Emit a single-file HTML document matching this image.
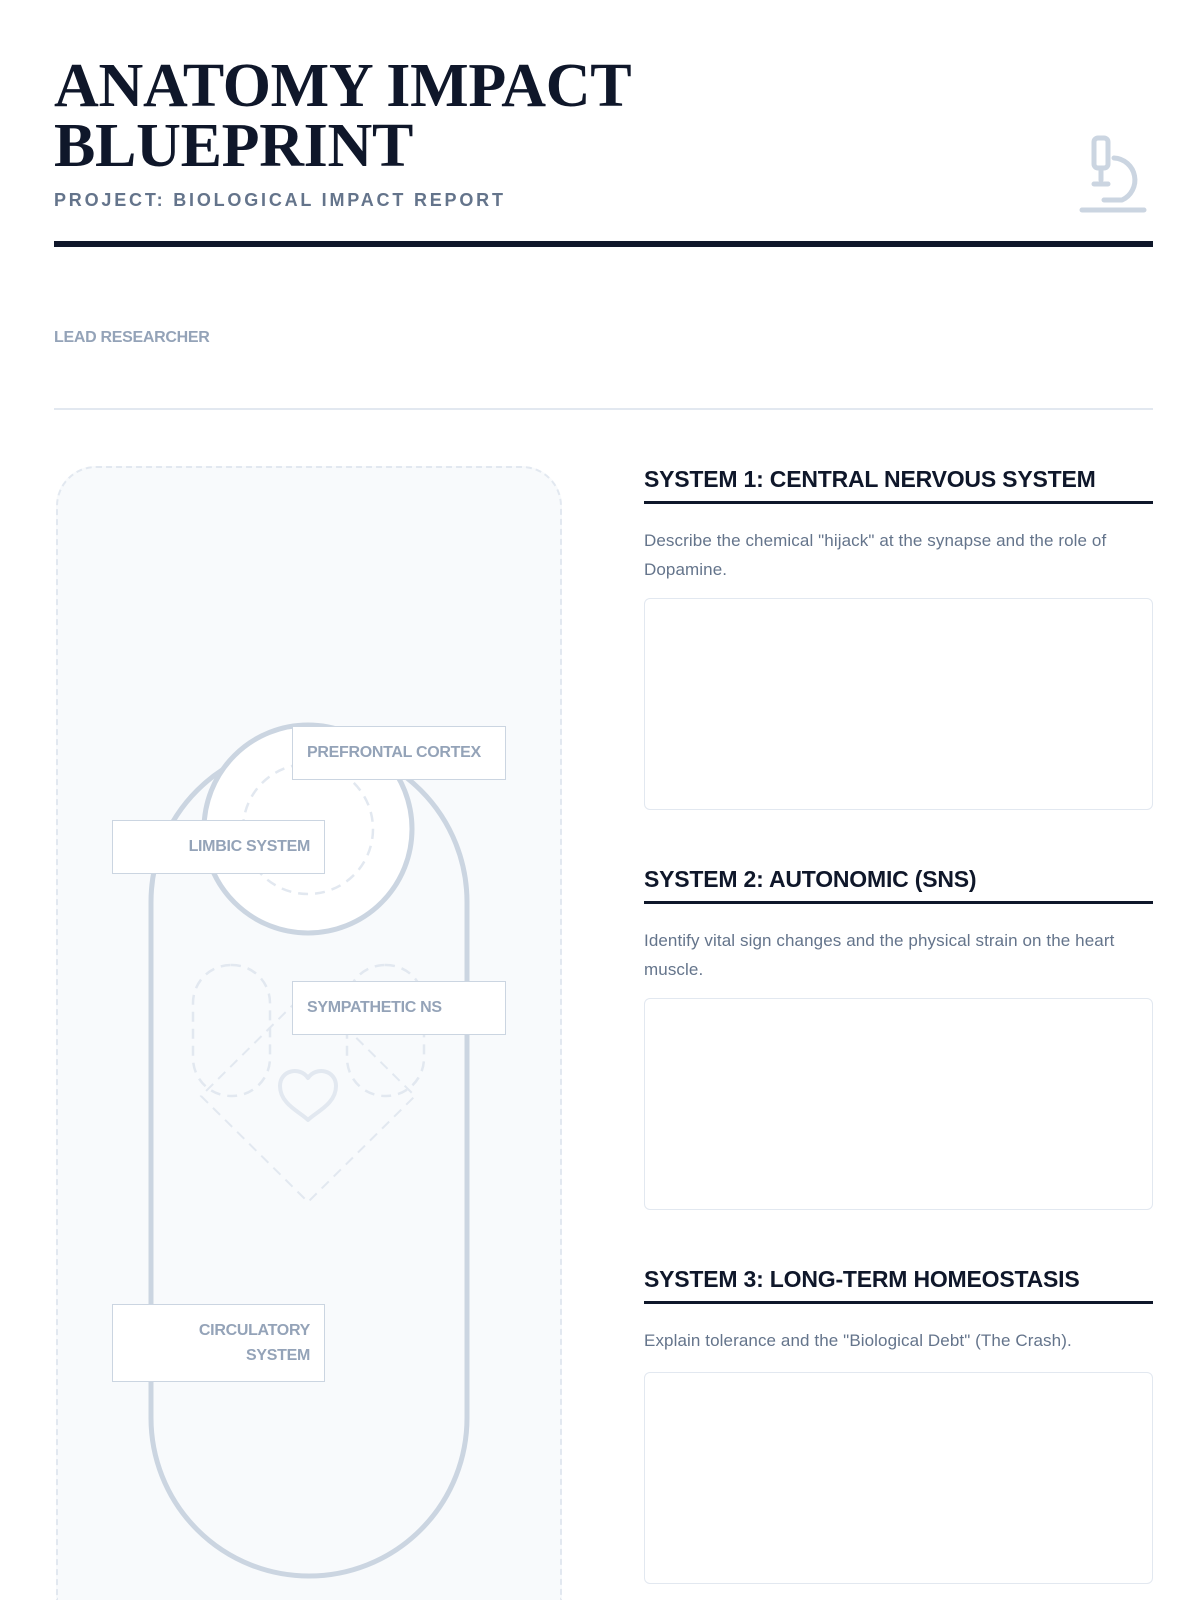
<!DOCTYPE html>
<html style="width:1200px;height:1600px;overflow:hidden"><head><meta charset="utf-8"><style>
*{margin:0;padding:0;box-sizing:border-box}
body{width:1200px;height:1600px;background:#fff;position:relative;overflow:hidden;font-family:"Liberation Sans",sans-serif}
.a{position:absolute}
.title{left:54px;top:56px;font-family:"Liberation Serif",serif;font-weight:bold;font-size:62px;line-height:60px;color:#0f172a;letter-spacing:-0.3px}
.sub{left:54px;top:190px;font-size:18px;font-weight:bold;letter-spacing:2.8px;color:#64748b}
.lbl{font-size:16px;font-weight:bold;color:#94a3b8;letter-spacing:-0.3px}
.box{background:#fff;border:1.5px solid #cbd5e1;padding:0 14px;display:flex;align-items:center}
.h{left:644px;width:509px;font-size:23px;font-weight:bold;color:#0f172a;letter-spacing:-0.2px;border-bottom:3px solid #0f172a;padding-bottom:8px}
.d{left:644px;width:509px;font-size:17px;line-height:29px;color:#64748b;letter-spacing:0.1px}
.ans{left:644px;width:509px;height:212px;border:1.5px solid #e2e8f0;border-radius:6px;background:#fff}
</style></head><body>
<div class="a title">ANATOMY IMPACT<br>BLUEPRINT</div>
<div class="a sub">PROJECT: BIOLOGICAL IMPACT REPORT</div>
<svg class="a" style="left:1074px;top:134px" width="80" height="82" viewBox="0 0 80 82" fill="none" stroke="#cbd5e1" stroke-width="5" stroke-linecap="round" stroke-linejoin="round">
<rect x="20" y="4" width="14" height="30" rx="4"/><line x1="27" y1="34" x2="27" y2="46"/><line x1="20" y1="50" x2="34" y2="50"/><path d="M40 24 a22 22 0 0 1 8 42 H30"/><line x1="8" y1="76" x2="70" y2="76"/></svg>
<div class="a" style="left:54px;top:241px;width:1099px;height:6px;background:#0f172a"></div>
<div class="a lbl" style="left:54px;top:329px">LEAD RESEARCHER</div>
<div class="a" style="left:54px;top:408px;width:1099px;height:2px;background:#e2e8f0"></div>

<div class="a" style="left:56px;top:466px;width:506px;height:1134px;background:#f8fafc;border:2px dashed #e2e8f0;border-bottom:none;border-radius:40px 40px 0 0"></div>
<svg class="a" style="left:0;top:0" width="600" height="1600">
<rect x="151" y="744" width="316" height="832" rx="158" fill="none" stroke="#cbd5e1" stroke-width="5"/>
<circle cx="308" cy="829" r="104" fill="#fff" stroke="#cbd5e1" stroke-width="5"/>
<circle cx="308" cy="829" r="65" fill="none" stroke="#e2e8f0" stroke-width="2.5" stroke-dasharray="10 7"/>
<rect x="193" y="965" width="77" height="131" rx="38" fill="none" stroke="#e2e8f0" stroke-width="2.5" stroke-dasharray="10 7"/>
<rect x="347" y="965" width="77" height="131" rx="38" fill="none" stroke="#e2e8f0" stroke-width="2.5" stroke-dasharray="10 7"/>
<path d="M308 990 L415 1096 L308 1202 L201 1096 Z" fill="none" stroke="#e2e8f0" stroke-width="2" stroke-dasharray="10 7"/>
<path d="M308 1120 C300 1112 280 1104 280 1086 C280 1070 300 1066 308 1078 C316 1066 336 1070 336 1086 C336 1104 316 1112 308 1120 Z" fill="none" stroke="#e2e8f0" stroke-width="4" stroke-linejoin="round"/>
</svg>
<div class="a box lbl" style="left:292px;top:726px;width:214px;height:54px">PREFRONTAL CORTEX</div>
<div class="a box lbl" style="left:112px;top:820px;width:213px;height:54px;justify-content:flex-end">LIMBIC SYSTEM</div>
<div class="a box lbl" style="left:292px;top:981px;width:214px;height:54px">SYMPATHETIC NS</div>
<div class="a box lbl" style="left:112px;top:1304px;width:213px;height:78px;justify-content:flex-end;text-align:right;line-height:25px">CIRCULATORY<br>SYSTEM</div>

<div class="a h" style="top:466px">SYSTEM 1: CENTRAL NERVOUS SYSTEM</div>
<div class="a d" style="top:526px">Describe the chemical "hijack" at the synapse and the role of Dopamine.</div>
<div class="a ans" style="top:598px"></div>
<div class="a h" style="top:866px">SYSTEM 2: AUTONOMIC (SNS)</div>
<div class="a d" style="top:926px">Identify vital sign changes and the physical strain on the heart muscle.</div>
<div class="a ans" style="top:998px"></div>
<div class="a h" style="top:1266px">SYSTEM 3: LONG-TERM HOMEOSTASIS</div>
<div class="a d" style="top:1326px">Explain tolerance and the "Biological Debt" (The Crash).</div>
<div class="a ans" style="top:1372px"></div>
</body></html>
